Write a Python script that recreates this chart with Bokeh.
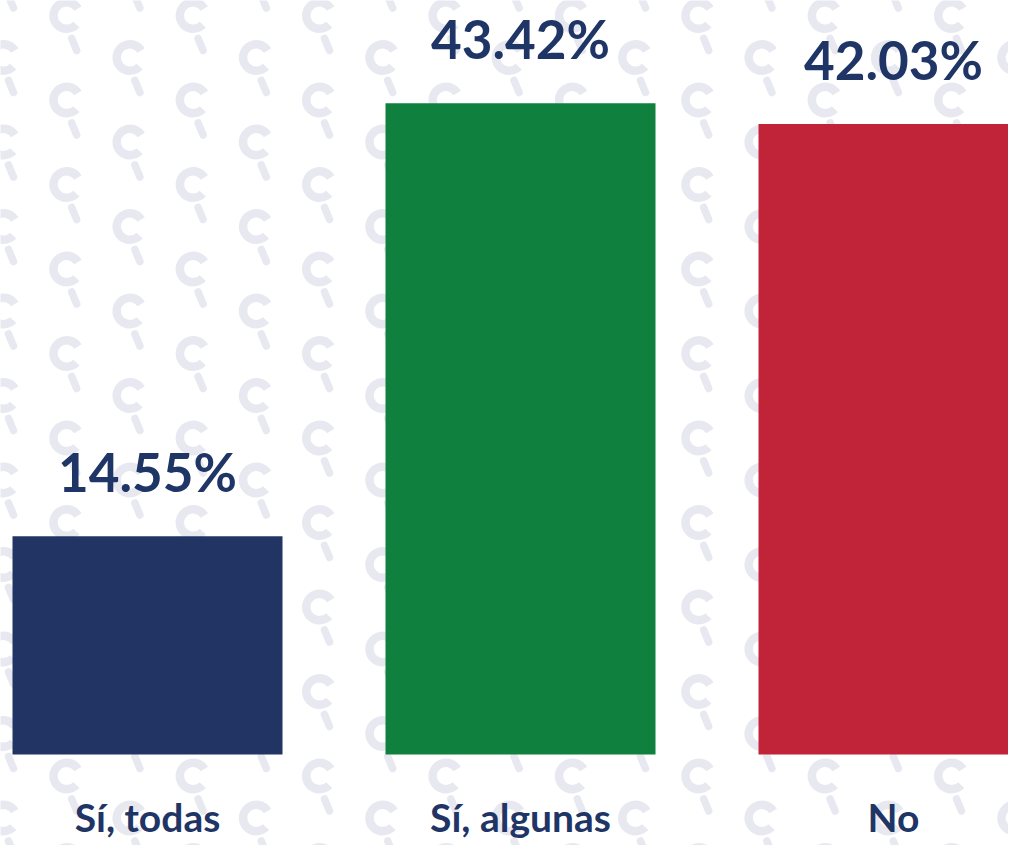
import numpy as np
from bokeh.plotting import figure
from bokeh.models import Range1d, ColumnDataSource
from bokeh.core.properties import value
from bokeh.embed import file_html
from bokeh.resources import INLINE

# ---- data ----
categories = ["Sí, todas", "Sí, algunas", "No"]
percentages = [14.55, 43.42, 42.03]
bar_colors = ["#223463", "#10803f", "#c12338"]
value_labels = ["14.55%", "43.42%", "42.03%"]

# ---- layout constants (pixels) ----
W, H = 1008, 845
PX_X = 373.0          # pixels per category step
PX_Y = 15.0           # pixels per percentage point
X0_PX = 147.0         # pixel position of first category centre
BASE_PX = 754.0       # pixel position (from top) of 0 %
TEXT = "#1f3566"
WM = "#e8e9f0"

x_start = -X0_PX / PX_X
x_end = (W - X0_PX) / PX_X
y_end = BASE_PX / PX_Y
y_start = -(H - BASE_PX) / PX_Y

p = figure(width=W, height=H, output_backend="svg", toolbar_location=None,
           x_range=Range1d(x_start, x_end), y_range=Range1d(y_start, y_end),
           min_border=0, min_border_left=0, min_border_right=0,
           min_border_top=0, min_border_bottom=0)
p.axis.visible = False
p.grid.visible = False
p.outline_line_color = None
p.background_fill_color = "white"
p.border_fill_color = "white"


def img_x(px):
    return px / PX_X + x_start


def img_y(py):
    return (BASE_PX - py) / PX_Y


# ---- watermark pattern (decorative) ----
wx, wy, sx0, sy0, sx1, sy1 = [], [], [], [], [], []
for k in range(-1, 18):
    cx = 3 + 63.2 * k
    off = 15 if k % 2 else 57
    for j in range(-1, 12):
        cy = off + 84.5 * j
        wx.append(img_x(cx)); wy.append(img_y(cy))
        sx0.append(img_x(cx + 5)); sy0.append(img_y(cy + 23))
        sx1.append(img_x(cx + 10)); sy1.append(img_y(cy + 35))

p.annular_wedge(x=wx, y=wy, inner_radius=9, outer_radius=17.5,
                inner_radius_units="screen", outer_radius_units="screen",
                start_angle=0.55, end_angle=2 * np.pi - 0.75,
                fill_color=WM, line_color=None)
p.segment(x0=sx0, y0=sy0, x1=sx1, y1=sy1, line_color=WM, line_width=7.5,
          line_cap="round")

# ---- bars ----
xs = list(range(len(categories)))
src = ColumnDataSource(dict(x=xs, top=percentages, color=bar_colors,
                            label=value_labels, cat=categories,
                            ly=[v + 65 / PX_Y for v in percentages],
                            cy=[-62 / PX_Y] * len(categories)))
p.vbar(x="x", top="top", bottom=0, width=270 / PX_X, fill_color="color",
       line_color=None, source=src)

p.text(x="x", y="ly", text="label", source=src, text_align="center",
       text_baseline="alphabetic", text_color=TEXT,
       text_font=value("Lato"), text_font_style="bold", text_font_size="53px")

p.text(x="x", y="cy", text="cat", source=src, text_align="center",
       text_baseline="alphabetic", text_color=TEXT,
       text_font=value("Lato"), text_font_style="bold", text_font_size="39px")

open("out.html", "w").write(file_html(p, INLINE))
